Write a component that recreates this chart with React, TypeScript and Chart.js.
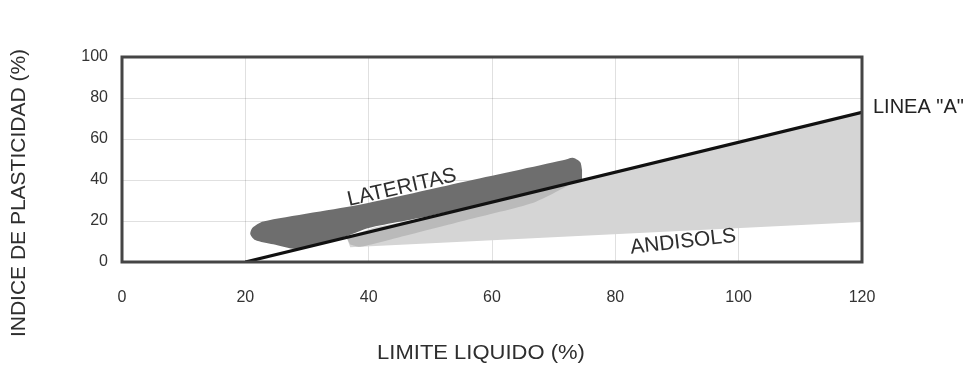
import React, { useEffect, useRef } from "react";
import { Chart, registerables } from "chart.js";

Chart.register(...registerables);

// Axis ticks
const xTicks = [0, 20, 40, 60, 80, 100, 120];
const yTicks = [0, 20, 40, 60, 80, 100];

// Line "A": PI = 0.73 (LL - 20)
const lineALL = [20, 120];
const lineAPI = [0, 73];

// Andisols zone (light gray)
const andisolsLL = [36.5, 38.5, 41, 46, 52, 120, 120, 37];
const andisolsPI = [11.5, 14.3, 16.9, 19.8, 23.4, 73, 19.5, 7.2];

// Overlap zone below the A line (medium gray)
const overlapLL = [36.5, 72.2, 72.2, 66.6, 55.9, 45.1, 38.6, 37];
const overlapPI = [11.5, 38.1, 37.1, 28.8, 20.5, 12.2, 7.4, 8.5];

// Lateritas zone (dark gray)
const lateritasLL = [74.6, 74.3, 73.1, 71.5, 55.3, 39.1, 22.9, 21.2, 20.8, 21.6, 24.5, 28.4, 34, 37, 40, 45, 50, 55, 74.6];
const lateritasPI = [44.9, 48.8, 50.9, 49.6, 39.0, 28.3, 19.8, 16.8, 13.7, 10.7, 8.6, 6.3, 10.3, 13.3, 16.6, 19.6, 22.6, 25.8, 40.2];

const pts = (xs: number[], ys: number[]) => xs.map((x, i) => ({ x, y: ys[i] }));

const FONT = "'Liberation Sans', Arial, Helvetica, sans-serif";

const labelsPlugin = {
  id: "labelsPlugin",
  afterDraw(chart: any) {
    const { ctx, chartArea } = chart;
    const { left, top, right, bottom } = chartArea;
    const xs = chart.scales.x;
    const ys = chart.scales.y;
    ctx.save();
    ctx.strokeStyle = "#454545";
    ctx.lineWidth = 3;
    ctx.strokeRect(left, top, right - left, bottom - top);

    ctx.fillStyle = "#2e2e2e";
    ctx.textAlign = "center";
    ctx.textBaseline = "middle";

    // LATERITAS
    ctx.save();
    ctx.translate(xs.getPixelForValue(45.4), ys.getPixelForValue(36.2));
    ctx.rotate((-13 * Math.PI) / 180);
    ctx.font = `21px ${FONT}`;
    ctx.fillText("LATERITAS", 0, 0);
    ctx.restore();

    // ANDISOLS
    ctx.save();
    ctx.translate(xs.getPixelForValue(91), ys.getPixelForValue(9.8));
    ctx.rotate((-6.5 * Math.PI) / 180);
    ctx.font = `21px ${FONT}`;
    ctx.fillText("ANDISOLS", 0, 0);
    ctx.restore();

    // LINEA "A"
    ctx.save();
    ctx.textAlign = "left";
    ctx.font = `20px ${FONT}`;
    ctx.fillStyle = "#222";
    ctx.fillText('LINEA "A"', right + 11, ys.getPixelForValue(75.5));
    ctx.restore();

    // X title
    ctx.save();
    ctx.font = `20px ${FONT}`;
    ctx.translate((left + right) / 2 - 11, 353);
    ctx.scale(1.1, 1);
    ctx.fillText("LIMITE LIQUIDO (%)", 0, 0);
    ctx.restore();

    // Y title
    ctx.save();
    ctx.font = `20px ${FONT}`;
    ctx.translate(19, 193);
    ctx.rotate(-Math.PI / 2);
    ctx.scale(1.05, 1);
    ctx.fillText("INDICE DE PLASTICIDAD (%)", 0, 0);
    ctx.restore();

    ctx.restore();
  },
};

export default function App() {
  const ref = useRef<HTMLCanvasElement>(null);
  useEffect(() => {
    if (!ref.current) return;
    const tickFont = { family: FONT, size: 16 };
    const chart = new Chart(ref.current, {
      type: "line",
      data: {
        datasets: [
          {
            label: "Linea A",
            data: pts(lineALL, lineAPI),
            borderColor: "#111",
            borderWidth: 3.2,
            pointRadius: 0,
            fill: false,
            order: 1,
          },
          {
            label: "Lateritas",
            data: pts(lateritasLL, lateritasPI),
            borderWidth: 0,
            borderColor: "rgba(0,0,0,0)",
            backgroundColor: "#6e6e6e",
            pointRadius: 0,
            fill: "shape",
            tension: 0.25,
            order: 2,
          },
          {
            label: "Overlap",
            data: pts(overlapLL, overlapPI),
            borderWidth: 0,
            borderColor: "rgba(0,0,0,0)",
            backgroundColor: "#bababa",
            pointRadius: 0,
            fill: "shape",
            tension: 0.2,
            order: 3,
          },
          {
            label: "Andisols",
            data: pts(andisolsLL, andisolsPI),
            borderWidth: 0,
            borderColor: "rgba(0,0,0,0)",
            backgroundColor: "#d5d5d5",
            pointRadius: 0,
            fill: "shape",
            tension: 0,
            order: 4,
          },
        ],
      } as any,
      options: {
        animation: false,
        responsive: true,
        maintainAspectRatio: false,
        layout: { padding: { left: 82, right: 117, top: 57, bottom: 0 } },
        plugins: { legend: { display: false }, tooltip: { enabled: false } },
        scales: {
          x: {
            type: "linear",
            min: 0,
            max: 120,
            afterBuildTicks: (s: any) => {
              s.ticks = xTicks.map((v) => ({ value: v }));
            },
            afterFit: (s: any) => {
              s.height = 104;
            },
            ticks: { color: "#333", font: tickFont, padding: 26 },
            grid: { color: "rgba(0,0,0,0.12)", drawTicks: false, lineWidth: 1 },
            border: { display: false },
            z: 1,
          },
          y: {
            type: "linear",
            min: 0,
            max: 100,
            afterBuildTicks: (s: any) => {
              s.ticks = yTicks.map((v) => ({ value: v }));
            },
            afterFit: (s: any) => {
              s.width = 40;
            },
            ticks: { color: "#333", font: tickFont, padding: 14 },
            grid: { color: "rgba(0,0,0,0.12)", drawTicks: false, lineWidth: 1 },
            border: { display: false },
            z: 1,
          },
        },
      } as any,
      plugins: [labelsPlugin],
    });
    return () => chart.destroy();
  }, []);
  return (
    <div style={{ position: "fixed", left: 0, top: 0, width: 979, height: 366, background: "#fff" }}>
      <canvas ref={ref} />
    </div>
  );
}
